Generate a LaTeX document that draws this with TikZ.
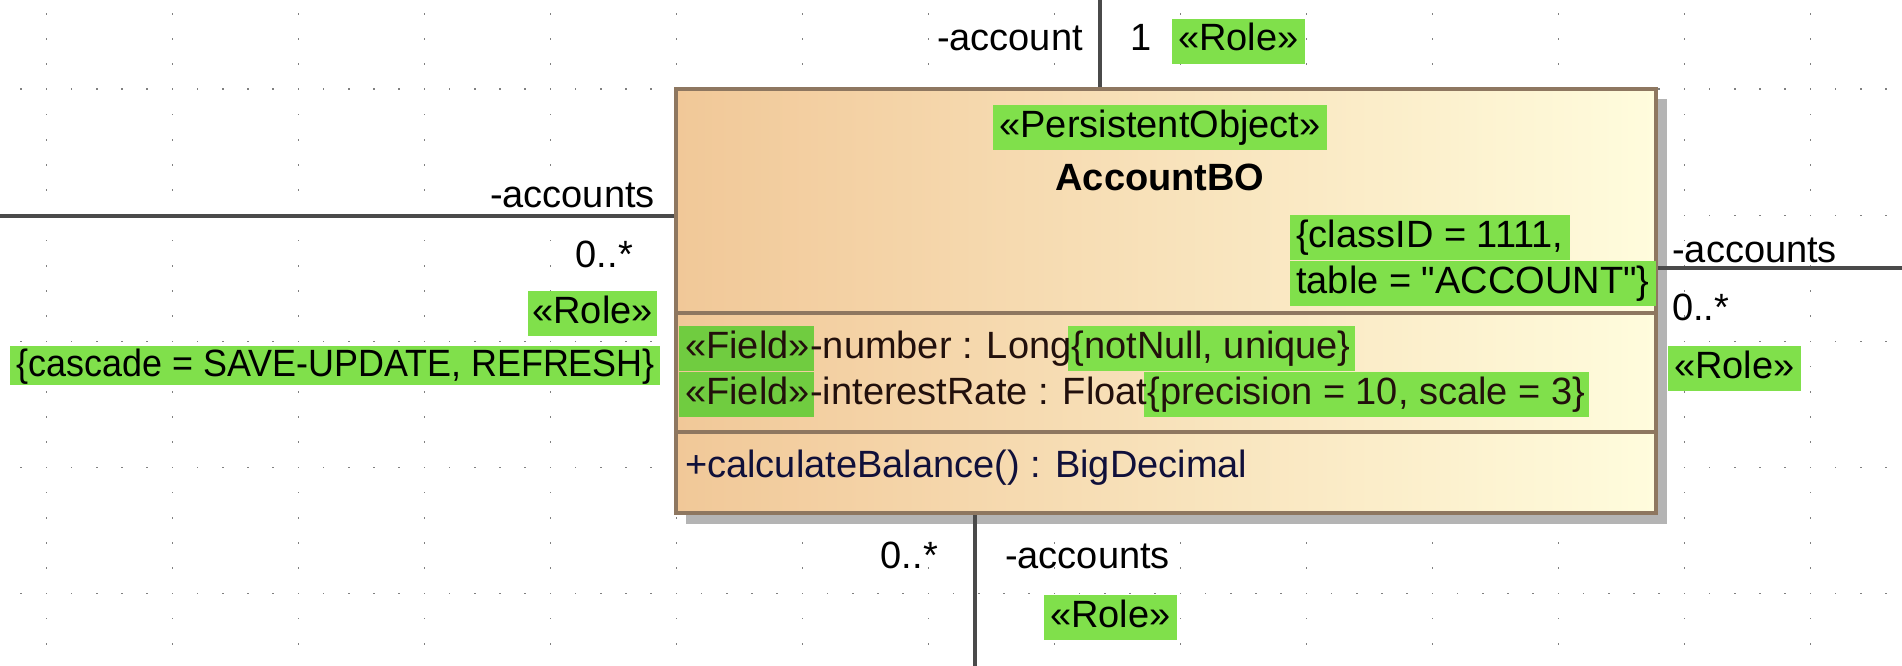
\documentclass[tikz,border=0pt]{standalone}
\usepackage{fontspec}
\newfontfamily\umlfam{Liberation Sans}
\newcommand\umlfont{\umlfam\fontsize{38}{46}\selectfont}
\definecolor{hlgreen}{HTML}{80E04B}
\definecolor{hlgreenb}{HTML}{70CC40}
\definecolor{boxL}{HTML}{F1C898}
\definecolor{boxR}{HTML}{FFFCDD}
\definecolor{boxborder}{HTML}{8E7760}
\definecolor{shadowc}{HTML}{B4B4B4}
\definecolor{linec}{HTML}{4A4A4A}
\definecolor{griddot}{HTML}{808080}
\definecolor{fieldc}{HTML}{22100C}
\definecolor{opc}{HTML}{10103A}
\pgfdeclarelayer{hllayer}
\pgfdeclarelayer{txtlayer}
\pgfsetlayers{main,hllayer,txtlayer}
\tikzset{
  lbl/.style={inner xsep=0pt, inner ysep=4pt, text height=28pt, text depth=9pt, font=\umlfont},
  conn/.style={draw=linec, line width=3.2pt},
  classbox/.style={draw=boxborder, line width=4pt, left color=boxL, right color=boxR, inner sep=0pt},
  compline/.style={draw=boxborder, line width=3.2pt}
}
\begin{document}
\begin{tikzpicture}[x=1pt,y=-1pt]
\useasboundingbox (0,0) rectangle (1902,666);
\fill[white] (0,0) rectangle (1902,666);
% grid dots
\foreach \k in {0,...,14}{
  \foreach \j in {-3,...,22}{
    \fill[griddot] ({46.3+126*\k-0.8},{89.3+25.2*\j-0.8}) rectangle +(1.7,1.7);
  }
}
\foreach \r in {0,...,4}{
  \foreach \i in {-1,...,73}{
    \fill[griddot] ({46.3+25.2*\i-0.8},{89.3+126*\r-0.8}) rectangle +(1.7,1.7);
  }
}
% shadow and class box
\fill[shadowc] (686,99) rectangle (1667,524);
\node[classbox, minimum width=980pt, minimum height=424pt] (box) at (1166,301) {};
\draw[compline] (box.west |- 0,313) -- (box.east |- 0,313);
\draw[compline] (box.west |- 0,432) -- (box.east |- 0,432);
% connectors
\coordinate (topend) at (1100,0);
\coordinate (leftend) at (0,216);
\coordinate (rightend) at (1902,268);
\coordinate (botend) at (975,666);
\draw[conn] (topend) -- (topend |- box.north);
\draw[conn] (leftend) -- (leftend -| box.west);
\draw[conn] (rightend -| box.east) -- (rightend);
\draw[conn] (botend |- box.south) -- (botend);
\begin{pgfonlayer}{txtlayer}
% top end
\node[lbl, anchor=base east] (tacc) at (1083,51) {-account};
\node[lbl, anchor=base] (tmul) at (1141,51) {1};
\node[lbl, anchor=base west] (trole) at (1178,51) {«Role»};
% class header
\node[lbl, anchor=base] (stereo) at (1160,137) {«PersistentObject»};
\node[lbl, anchor=base, font=\umlfont\bfseries] (cname) at (1160,190) {AccountBO};
\node[lbl, anchor=base west] (tag1) at (1296,247) {\{classID = 1111,};
\node[lbl, anchor=base west] (tag2) at (1296,293) {table = "ACCOUNT"\}};
% attributes
\node[lbl, anchor=base west, text=fieldc] (f1a) at (685,358) {«Field»};
\node[lbl, anchor=base west, text=fieldc] (f1b) at (f1a.base east) {-number : Long};
\node[lbl, anchor=base west, text=fieldc] (f1c) at (f1b.base east) {\{notNull, unique\}};
\node[lbl, anchor=base west, text=fieldc] (f2a) at (685,404) {«Field»};
\node[lbl, anchor=base west, text=fieldc] (f2b) at (f2a.base east) {-interestRate : Float};
\node[lbl, anchor=base west, text=fieldc] (f2c) at (f2b.base east) {\{precision = 10, scale = 3\}};
% operation
\node[lbl, anchor=base west, text=opc] (op) at (685,477) {+calculateBalance() : BigDecimal};
% left end
\node[lbl, anchor=base east] (lacc) at (655,207) {-accounts};
\node[lbl, anchor=base east] (lmul) at (633,267) {0..*};
\node[lbl, anchor=base east] (lrole) at (653,323) {«Role»};
\node[lbl, anchor=base east] (lcas) at (655,376) {\scalebox{0.945}[1]{\{cascade = SAVE-UPDATE, REFRESH\}}};
% right end
\node[lbl, anchor=base west] (racc) at (1672,262) {-accounts};
\node[lbl, anchor=base west] (rmul) at (1672,320) {0..*};
\node[lbl, anchor=base west] (rrole) at (1674,378) {«Role»};
% bottom end
\node[lbl, anchor=base east] (bmul) at (938,568) {0..*};
\node[lbl, anchor=base west] (bacc) at (1005,568) {-accounts};
\node[lbl, anchor=base west] (brole) at (1050,627) {«Role»};
\end{pgfonlayer}
\begin{pgfonlayer}{hllayer}
\foreach \n in {trole,stereo,tag1,tag2,rrole,brole}{
  \fill[hlgreen] ([xshift=-6pt]\n.south west) rectangle ([xshift=6pt]\n.north east);
}
\foreach \n in {lrole,f1c,f2c}{
  \fill[hlgreen] ([xshift=-4pt]\n.south west) rectangle ([xshift=4pt]\n.north east);
}
\fill[hlgreen] ([xshift=-6pt,yshift=4pt]lcas.south west) rectangle ([xshift=5pt,yshift=-2pt]lcas.north east);
\foreach \n in {f1a,f2a}{
  \fill[hlgreenb] ([xshift=-6pt]\n.south west) rectangle ([xshift=4pt]\n.north east);
}
\end{pgfonlayer}
\end{tikzpicture}
\end{document}
